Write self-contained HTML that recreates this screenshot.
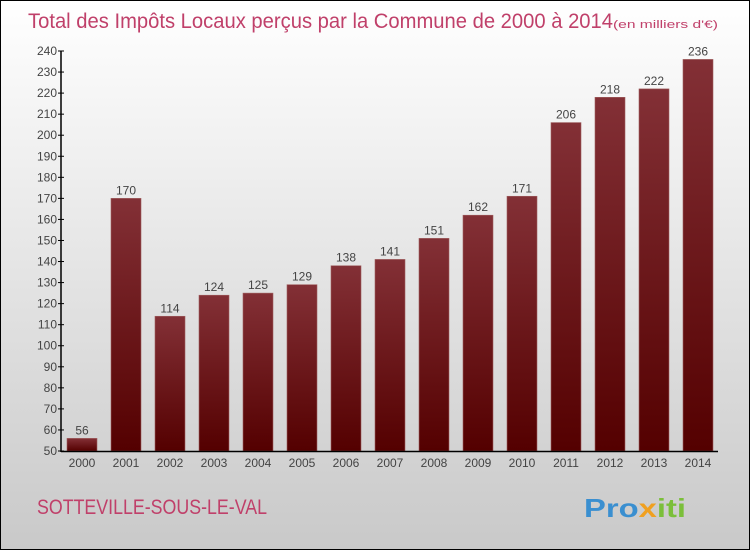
<!DOCTYPE html>
<html><head><meta charset="utf-8"><style>
body{margin:0;}
#c{position:relative;width:748px;height:548px;border:1px solid #000;background:linear-gradient(#ffffff,#c9c9c9);overflow:hidden;font-family:"Liberation Sans",sans-serif;}
</style></head><body>
<div id="c">
<svg id="s" width="748" height="548" style="position:absolute;left:0;top:0">
<defs><linearGradient id="g" x1="0" y1="0" x2="0" y2="1"><stop offset="0" stop-color="#833036"/><stop offset="1" stop-color="#540000"/></linearGradient></defs>
<text x="27" y="27" font-size="21" fill="#c0406a" textLength="585" lengthAdjust="spacingAndGlyphs">Total des Impôts Locaux perçus par la Commune de 2000 à 2014</text>
<text x="612" y="27" font-size="11" fill="#c0406a" textLength="105" lengthAdjust="spacingAndGlyphs">(en milliers d'€)</text>
<text x="36" y="513" font-size="21" fill="#c0406a" textLength="230" lengthAdjust="spacingAndGlyphs">SOTTEVILLE-SOUS-LE-VAL</text>
<text x="583" y="516" font-size="26" font-weight="bold" fill="#3a8fd0" textLength="102" lengthAdjust="spacingAndGlyphs">Pro<tspan fill="#f0a020">x</tspan><tspan fill="#7bbf3a">iti</tspan></text>
<g id="ax"></g>
</svg>
</div>
<script>
const categories=["2000","2001","2002","2003","2004","2005","2006","2007","2008","2009","2010","2011","2012","2013","2014"];
const values=[56,170,114,124,125,129,138,141,151,162,171,206,218,222,236];
const ticks=[50,60,70,80,90,100,110,120,130,140,150,160,170,180,190,200,210,220,230,240];
const NS="http://www.w3.org/2000/svg";
const g=document.getElementById('ax');
const y=v=>450-(v-50)*400/190;
const x=i=>81+i*44;
function mk(t,a){const e=document.createElementNS(NS,t);for(const k in a)e.setAttribute(k,a[k]);g.appendChild(e);return e;}
values.forEach((v,i)=>{
 const r=mk('rect',{x:x(i)-15,y:y(v),width:30,height:450-y(v),fill:'url(#g)',stroke:'#a06060','stroke-width':0.6});
 
 
 const t=mk('text',{x:x(i),y:y(v)-4,'font-size':12,fill:'#444','text-anchor':'middle'});t.textContent=v;
 
 
 const c=mk('text',{x:x(i),y:466,'font-size':12,fill:'#444','text-anchor':'middle'});c.textContent=categories[i];
 
 
});
ticks.forEach(v=>{
 mk('line',{x1:57,x2:63,y1:y(v),y2:y(v),stroke:'#000'});
 const t=mk('text',{x:56,y:y(v)+4,'font-size':12,fill:'#444','text-anchor':'end'});t.textContent=v;
 
 
});
const ya=mk('line',{x1:60,x2:60,y1:y(240),y2:451,stroke:'#000','stroke-width':1.5});


const xa=mk('line',{x1:60,x2:717,y1:450.5,y2:450.5,stroke:'#000','stroke-width':1.5});


</script>
</body></html>
